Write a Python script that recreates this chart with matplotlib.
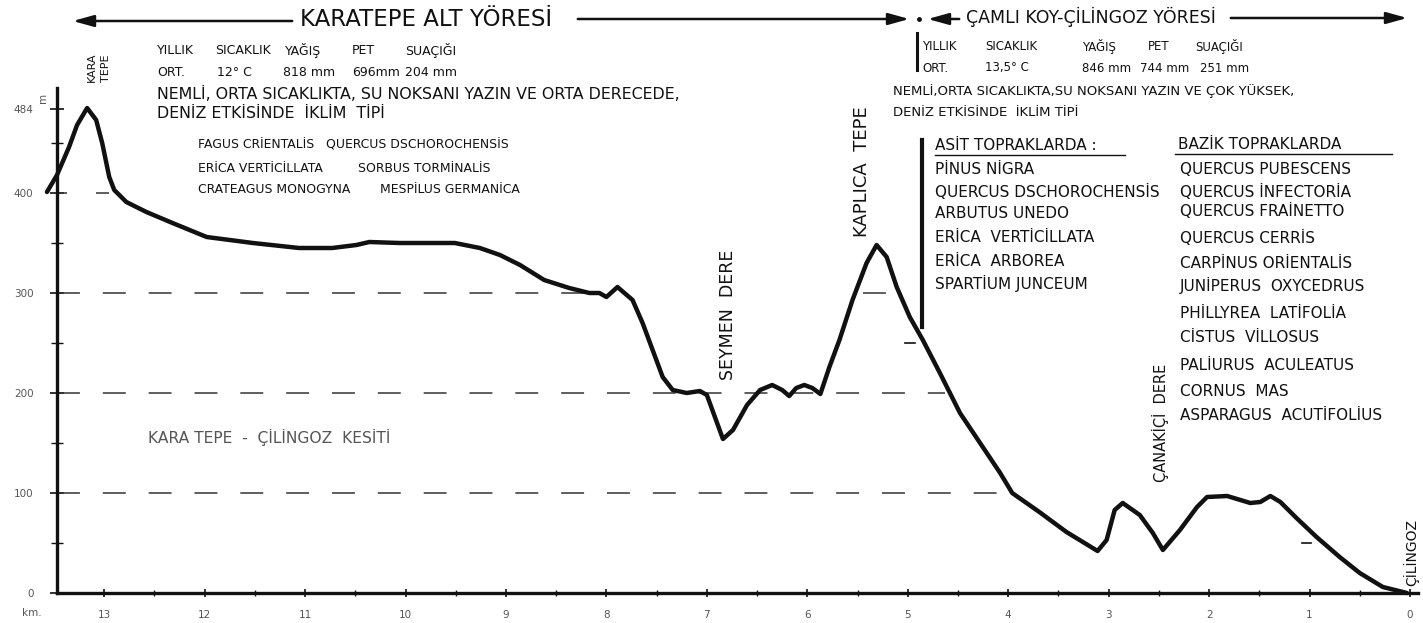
import matplotlib.pyplot as plt
from matplotlib.lines import Line2D
from matplotlib.patches import FancyArrowPatch
from matplotlib.ticker import FixedLocator

# profil: Çilingoz'a uzaklık (km) ve yükseklik (m), çizimden okundu
dist_km = [13.57, 13.47, 13.35, 13.27, 13.17, 13.08, 13.02, 12.95, 12.90, 12.78,
           12.58, 12.32, 11.98, 11.52, 11.06, 10.73, 10.49, 10.36, 10.06, 9.51,
           9.26, 9.06, 8.86, 8.62, 8.37, 8.17, 8.07, 8.00, 7.89, 7.74,
           7.64, 7.54, 7.44, 7.34, 7.20, 7.07, 7.00, 6.92, 6.84, 6.74,
           6.60, 6.47, 6.35, 6.25, 6.18, 6.11, 6.03, 5.95, 5.87, 5.78,
           5.68, 5.55, 5.41, 5.31, 5.21, 5.11, 4.98, 4.85, 4.68, 4.48,
           4.28, 4.08, 3.96, 3.69, 3.42, 3.11, 3.02, 2.94, 2.86, 2.69,
           2.56, 2.46, 2.29, 2.12, 2.02, 1.82, 1.59, 1.49, 1.39, 1.29,
           1.13, 0.93, 0.70, 0.50, 0.27, 0.03]
elev_m = [401, 418, 446, 468, 485, 473, 450, 416, 403, 391,
          381, 370, 356, 350, 345, 345, 348, 351, 350, 350,
          345, 338, 328, 313, 305, 300, 300, 296, 306, 293,
          270, 243, 216, 203, 200, 202, 198, 176, 154, 163,
          188, 203, 208, 203, 197, 205, 208, 205, 199, 226,
          253, 293, 330, 348, 336, 306, 276, 253, 220, 180,
          150, 120, 100, 81, 61, 42, 53, 83, 90, 78,
          60, 43, 63, 86, 96, 97, 90, 91, 97, 91,
          75, 56, 36, 20, 6, 0]

km_ticks = list(range(14))
elev_ticks = [0, 100, 200, 300, 400, 484]
elev_labels = ['0', '100', '200', '300', '400', '484']

# yatay kesikli seviye çizgileri: (yükseklik, başlangıç km, bitiş km)
levels = [(100, 13.47, 4.05), (200, 13.47, 4.63), (300, 13.47, 8.07),
          (300, 5.45, 5.15), (400, 13.45, 13.37), (400, 13.08, 12.95)]

left_title = 'KARATEPE ALT YÖRESİ'
right_title = 'ÇAMLI KOY-ÇİLİNGOZ YÖRESİ'
climate_head = ['YILLIK', 'SICAKLIK', 'YAĞIŞ', 'PET', 'SUAÇIĞI']
left_climate = ['ORT.', '12° C', '818 mm', '696mm', '204 mm']
right_climate = ['ORT.', '13,5° C', '846 mm', '744 mm', '251 mm']
left_desc = ['NEMLİ, ORTA SICAKLIKTA, SU NOKSANI YAZIN VE ORTA DERECEDE,',
             'DENİZ ETKİSİNDE  İKLİM  TİPİ']
right_desc = ['NEMLİ,ORTA SICAKLIKTA,SU NOKSANI YAZIN VE ÇOK YÜKSEK,',
              'DENİZ ETKİSİNDE  İKLİM TİPİ']
left_species = [('FAGUS CRİENTALİS', 'QUERCUS DSCHOROCHENSİS'),
                ('ERİCA VERTİCİLLATA', 'SORBUS TORMİNALİS'),
                ('CRATEAGUS MONOGYNA', 'MESPİLUS GERMANİCA')]
acid_title = 'ASİT TOPRAKLARDA :'
acid_species = ['PİNUS NİGRA', 'QUERCUS DSCHOROCHENSİS', 'ARBUTUS UNEDO',
                'ERİCA  VERTİCİLLATA', 'ERİCA  ARBOREA', 'SPARTİUM JUNCEUM']
basic_title = 'BAZİK TOPRAKLARDA'
basic_species = ['QUERCUS PUBESCENS', 'QUERCUS İNFECTORİA', 'QUERCUS FRAİNETTO',
                 'QUERCUS CERRİS', 'CARPİNUS ORİENTALİS', 'JUNİPERUS  OXYCEDRUS',
                 'PHİLLYREA  LATİFOLİA', 'CİSTUS  VİLLOSUS', 'PALİURUS  ACULEATUS',
                 'CORNUS  MAS', 'ASPARAGUS  ACUTİFOLİUS']
section_title = 'KARA TEPE  -  ÇİLİNGOZ  KESİTİ'

W, H = 1423, 623
INK = '#111111'
FADED = '#555555'

fig = plt.figure(figsize=(W / 100, H / 100), dpi=100)
ax = fig.add_axes([57 / W, 30 / H, (1418 - 57) / W, 593 / H])
ax.set_xlim(13.47, -0.08)
ax.set_ylim(0, 593)
ax.patch.set_alpha(0)

for side in ['top', 'right']:
    ax.spines[side].set_visible(False)
ax.spines['left'].set_bounds(0, 505)
for side in ['left', 'bottom']:
    ax.spines[side].set_linewidth(2.4)
    ax.spines[side].set_color(INK)

ax.set_xticks(km_ticks)
ax.set_xticklabels([str(k) for k in km_ticks])
ax.xaxis.set_minor_locator(FixedLocator([k + 0.5 for k in range(13)]))
ax.set_yticks(elev_ticks)
ax.set_yticklabels(elev_labels)
ax.yaxis.set_minor_locator(FixedLocator([50, 150, 250, 350, 450]))
ax.tick_params(axis='x', which='major', direction='inout', length=6, width=1.2,
               pad=9, labelsize=7.5, labelcolor=FADED, color=INK)
ax.tick_params(axis='x', which='minor', direction='inout', length=4, width=1, color=INK)
ax.tick_params(axis='y', which='major', direction='inout', length=10, width=1.2,
               pad=12, labelsize=7.5, labelcolor=FADED, color=INK)
ax.tick_params(axis='y', which='minor', direction='inout', length=8, width=1, color=INK)

for lev, k0, k1 in levels:
    ax.hlines(lev, k0, k1, colors='#333333', linewidth=1.1,
              linestyles=(0, (15, 15)))

ax.plot(dist_km, elev_m, color=INK, linewidth=3.2, solid_joinstyle='round',
        solid_capstyle='round', clip_on=False, zorder=5)


def P(x, y):
    return (x / W, 1 - y / H)


def put(x, y, s, size=10, **kw):
    kw.setdefault('ha', 'left')
    kw.setdefault('va', 'center')
    kw.setdefault('color', INK)
    fig.text(*P(x, y), s, fontsize=size, **kw)


def line(x0, y0, x1, y1, lw=1.0):
    (a, b), (c, d) = P(x0, y0), P(x1, y1)
    fig.add_artist(Line2D([a, c], [b, d], transform=fig.transFigure,
                          color=INK, linewidth=lw))


def arrow(x0, y0, x1, y1):
    fig.add_artist(FancyArrowPatch(P(x0, y0), P(x1, y1), transform=fig.transFigure,
                                   arrowstyle='-|>,head_length=0.9,head_width=0.25',
                                   mutation_scale=14, color=INK, linewidth=1.8))


# başlık okları
arrow(295, 21, 70, 21)
put(300, 20, left_title, size=16.5)
arrow(575, 19, 912, 19)
fig.add_artist(Line2D([P(919, 19)[0]], [P(919, 19)[1]], transform=fig.transFigure,
                      marker='o', markersize=2.5, color=INK))
arrow(962, 19, 925, 19)
put(966, 17, right_title, size=12.5)
arrow(1228, 18, 1410, 18)

# sol blok
for x, s in zip([157, 215, 285, 352, 405], climate_head):
    put(x, 50, s, size=9)
for x, s in zip([157, 217, 283, 352, 405], left_climate):
    put(x, 72, s, size=9)
put(157, 94, left_desc[0], size=11.4)
put(157, 114, left_desc[1], size=11.4)
for (a, b), y, xb in zip(left_species, [145, 168, 190], [326, 358, 380]):
    put(198, y, a, size=8.9)
    put(xb, y, b, size=8.9)

# sağ blok
line(917, 33, 917, 70, lw=2.2)
for x, s in zip([922, 985, 1082, 1148, 1195], climate_head):
    put(x, 47, s, size=8.5)
for x, s in zip([922, 985, 1082, 1140, 1200], right_climate):
    put(x, 68, s, size=8.5)
put(893, 91, right_desc[0], size=9.5)
put(893, 112, right_desc[1], size=9.5)

line(922, 140, 922, 327, lw=3)
put(935, 146, acid_title, size=11)
line(935, 155, 1125, 155, lw=1)
for y, s in zip([170, 192, 213, 238, 261, 283], acid_species):
    put(935, y, s, size=11)
put(1178, 145, basic_title, size=11)
line(1175, 154, 1392, 154, lw=1)
for y, s in zip([170, 192, 211, 238, 263, 285, 313, 338, 366, 391, 416], basic_species):
    put(1180, y, s, size=11)

# dikey yer adları
put(92, 82, 'KARA', size=8, rotation=90, ha='center', va='bottom')
put(106, 82, 'TEPE', size=8, rotation=90, ha='center', va='bottom')
put(728, 380, 'SEYMEN  DERE', size=12.5, rotation=90, ha='center', va='bottom')
put(862, 237, 'KAPLICA  TEPE', size=13, rotation=90, ha='center', va='bottom')
put(1160, 482, 'ÇANAKİÇİ  DERE', size=10.5, rotation=90, ha='center', va='bottom')
put(1411, 586, 'ÇİLİNGOZ', size=10, rotation=90, ha='center', va='bottom')

# küçük eş yükselti işaretleri
line(905, 343, 915, 343, lw=1.2)
line(1302, 543, 1311, 543, lw=1.2)

put(148, 437, section_title, size=11.2, color=FADED)
put(22, 613, 'km.', size=7.5, color=FADED)
put(43, 98, 'm', size=7.5, rotation=90, ha='center', color=FADED)

fig.savefig('out.png', dpi=100, facecolor='white')
